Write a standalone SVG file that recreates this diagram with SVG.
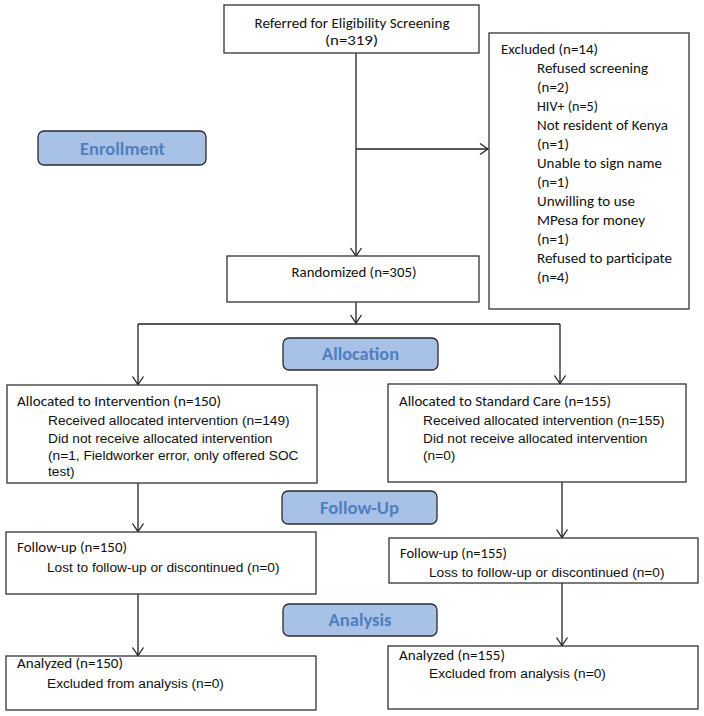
<svg xmlns="http://www.w3.org/2000/svg" width="704" height="716" viewBox="0 0 704 716">
<style>
.box{fill:#fff;stroke:#333;stroke-width:1.3}
.lbl{fill:#A8C1E6;stroke:#2b2b2b;stroke-width:1.3}
.lt{font-family:Carlito,Lato,"Open Sans",sans-serif;font-size:18.6px;font-weight:bold;fill:#4F7FBF;text-anchor:middle}
.c{font-family:Carlito,Lato,"Open Sans",sans-serif;font-size:15px;fill:#111}
.a{font-family:"Liberation Sans",Arial,sans-serif;font-size:13.7px;fill:#111}
.m{text-anchor:middle}
.ln{fill:none;stroke:#222;stroke-width:1.3}
</style>
<defs>
<marker id="arr" markerUnits="userSpaceOnUse" markerWidth="14" markerHeight="14" viewBox="-10 -7 12 14" refX="0" refY="0" orient="auto">
<path d="M-8,-5.5 L0,0 L-8,5.5" fill="none" stroke="#222" stroke-width="1.3"/>
</marker>
</defs>
<rect width="704" height="716" fill="#fff"/>

<g id="connectors">
<path class="ln" d="M356,53 V256" marker-end="url(#arr)"/>
<path class="ln" d="M356,149 H488" marker-end="url(#arr)"/>
<path class="ln" d="M356,302 V323" marker-end="url(#arr)"/>
<path class="ln" d="M138,324 H560"/>
<path class="ln" d="M138,324 V384.5" marker-end="url(#arr)"/>
<path class="ln" d="M560,324 V383.5" marker-end="url(#arr)"/>
<path class="ln" d="M138,483 V531.5" marker-end="url(#arr)"/>
<path class="ln" d="M562,482 V537.5" marker-end="url(#arr)"/>
<path class="ln" d="M138,594 V655.5" marker-end="url(#arr)"/>
<path class="ln" d="M562,583 V645.5" marker-end="url(#arr)"/>
</g>

<g id="referred">
<rect class="box" x="224" y="5" width="255" height="48"/>
<text class="c m" x="352" y="28" textLength="195" lengthAdjust="spacingAndGlyphs">Referred for Eligibility Screening</text>
<text class="c m" x="351.5" y="45" textLength="53" lengthAdjust="spacingAndGlyphs">(n=319)</text>
</g>

<g id="excluded">
<rect class="box" x="489" y="33" width="200" height="276"/>
<text class="c" x="501" y="54" textLength="97" lengthAdjust="spacingAndGlyphs">Excluded (n=14)</text>
<text class="c" x="537" y="73.3" textLength="111" lengthAdjust="spacingAndGlyphs">Refused screening</text>
<text class="c" x="537" y="92.3" textLength="32" lengthAdjust="spacingAndGlyphs">(n=2)</text>
<text class="c" x="537" y="111.3" textLength="61" lengthAdjust="spacingAndGlyphs">HIV+ (n=5)</text>
<text class="c" x="537" y="130.3" textLength="131" lengthAdjust="spacingAndGlyphs">Not resident of Kenya</text>
<text class="c" x="537" y="149.3" textLength="32" lengthAdjust="spacingAndGlyphs">(n=1)</text>
<text class="c" x="537" y="168.3" textLength="125" lengthAdjust="spacingAndGlyphs">Unable to sign name</text>
<text class="c" x="537" y="187.3" textLength="32" lengthAdjust="spacingAndGlyphs">(n=1)</text>
<text class="c" x="537" y="206.3" textLength="98" lengthAdjust="spacingAndGlyphs">Unwilling to use</text>
<text class="c" x="537" y="225.3" textLength="108" lengthAdjust="spacingAndGlyphs">MPesa for money</text>
<text class="c" x="537" y="244.3" textLength="32" lengthAdjust="spacingAndGlyphs">(n=1)</text>
<text class="c" x="537" y="263.3" textLength="135" lengthAdjust="spacingAndGlyphs">Refused to participate</text>
<text class="c" x="537" y="282.3" textLength="32" lengthAdjust="spacingAndGlyphs">(n=4)</text>
</g>

<g id="enrollment">
<rect class="lbl" x="38" y="131" width="168" height="34" rx="6"/>
<text class="lt" x="122.5" y="154.5" textLength="85" lengthAdjust="spacingAndGlyphs">Enrollment</text>
</g>

<g id="randomized">
<rect class="box" x="227" y="256" width="252" height="46"/>
<text class="c m" x="354" y="277" textLength="125" lengthAdjust="spacingAndGlyphs">Randomized (n=305)</text>
</g>

<g id="allocation">
<rect class="lbl" x="283" y="338" width="155" height="32" rx="6"/>
<text class="lt" x="360.5" y="360" textLength="77" lengthAdjust="spacingAndGlyphs">Allocation</text>
</g>

<g id="alloc-intervention">
<rect class="box" x="7" y="385" width="310" height="98"/>
<text class="c" x="17" y="406" textLength="204" lengthAdjust="spacingAndGlyphs">Allocated to Intervention (n=150)</text>
<text class="a" x="48" y="425">Received allocated intervention (n=149)</text>
<text class="a" x="48" y="443">Did not receive allocated intervention</text>
<text class="a" x="48" y="459.5">(n=1, Fieldworker error, only offered SOC</text>
<text class="a" x="48" y="475.5">test)</text>
</g>

<g id="alloc-standard">
<rect class="box" x="388" y="384" width="298" height="98"/>
<text class="c" x="399" y="406" textLength="212" lengthAdjust="spacingAndGlyphs">Allocated to Standard Care (n=155)</text>
<text class="a" x="423" y="425">Received allocated intervention (n=155)</text>
<text class="a" x="423" y="443">Did not receive allocated intervention</text>
<text class="a" x="423" y="460">(n=0)</text>
</g>

<g id="followup-label">
<rect class="lbl" x="282" y="491" width="155" height="33" rx="6"/>
<text class="lt" x="359.5" y="513.5" textLength="79" lengthAdjust="spacingAndGlyphs">Follow-Up</text>
</g>

<g id="followup-intervention">
<rect class="box" x="6" y="532" width="310" height="62"/>
<text class="c" x="17" y="552" textLength="110" lengthAdjust="spacingAndGlyphs">Follow-up (n=150)</text>
<text class="a" x="47" y="572">Lost to follow-up or discontinued (n=0)</text>
</g>

<g id="followup-standard">
<rect class="box" x="389" y="538" width="309" height="45"/>
<text class="c" x="400" y="558" textLength="107" lengthAdjust="spacingAndGlyphs">Follow-up (n=155)</text>
<text class="a" x="429" y="577">Loss to follow-up or discontinued (n=0)</text>
</g>

<g id="analysis-label">
<rect class="lbl" x="283" y="604" width="154" height="32" rx="6"/>
<text class="lt" x="360" y="626" textLength="63" lengthAdjust="spacingAndGlyphs">Analysis</text>
</g>

<g id="analyzed-intervention">
<rect class="box" x="6" y="656" width="310" height="54"/>
<text class="c" x="17" y="668" textLength="106" lengthAdjust="spacingAndGlyphs">Analyzed (n=150)</text>
<text class="a" x="47" y="688">Excluded from analysis (n=0)</text>
</g>

<g id="analyzed-standard">
<rect class="box" x="388" y="646" width="310" height="63"/>
<text class="c" x="399" y="660" textLength="106" lengthAdjust="spacingAndGlyphs">Analyzed (n=155)</text>
<text class="a" x="429" y="678">Excluded from analysis (n=0)</text>
</g>
</svg>
